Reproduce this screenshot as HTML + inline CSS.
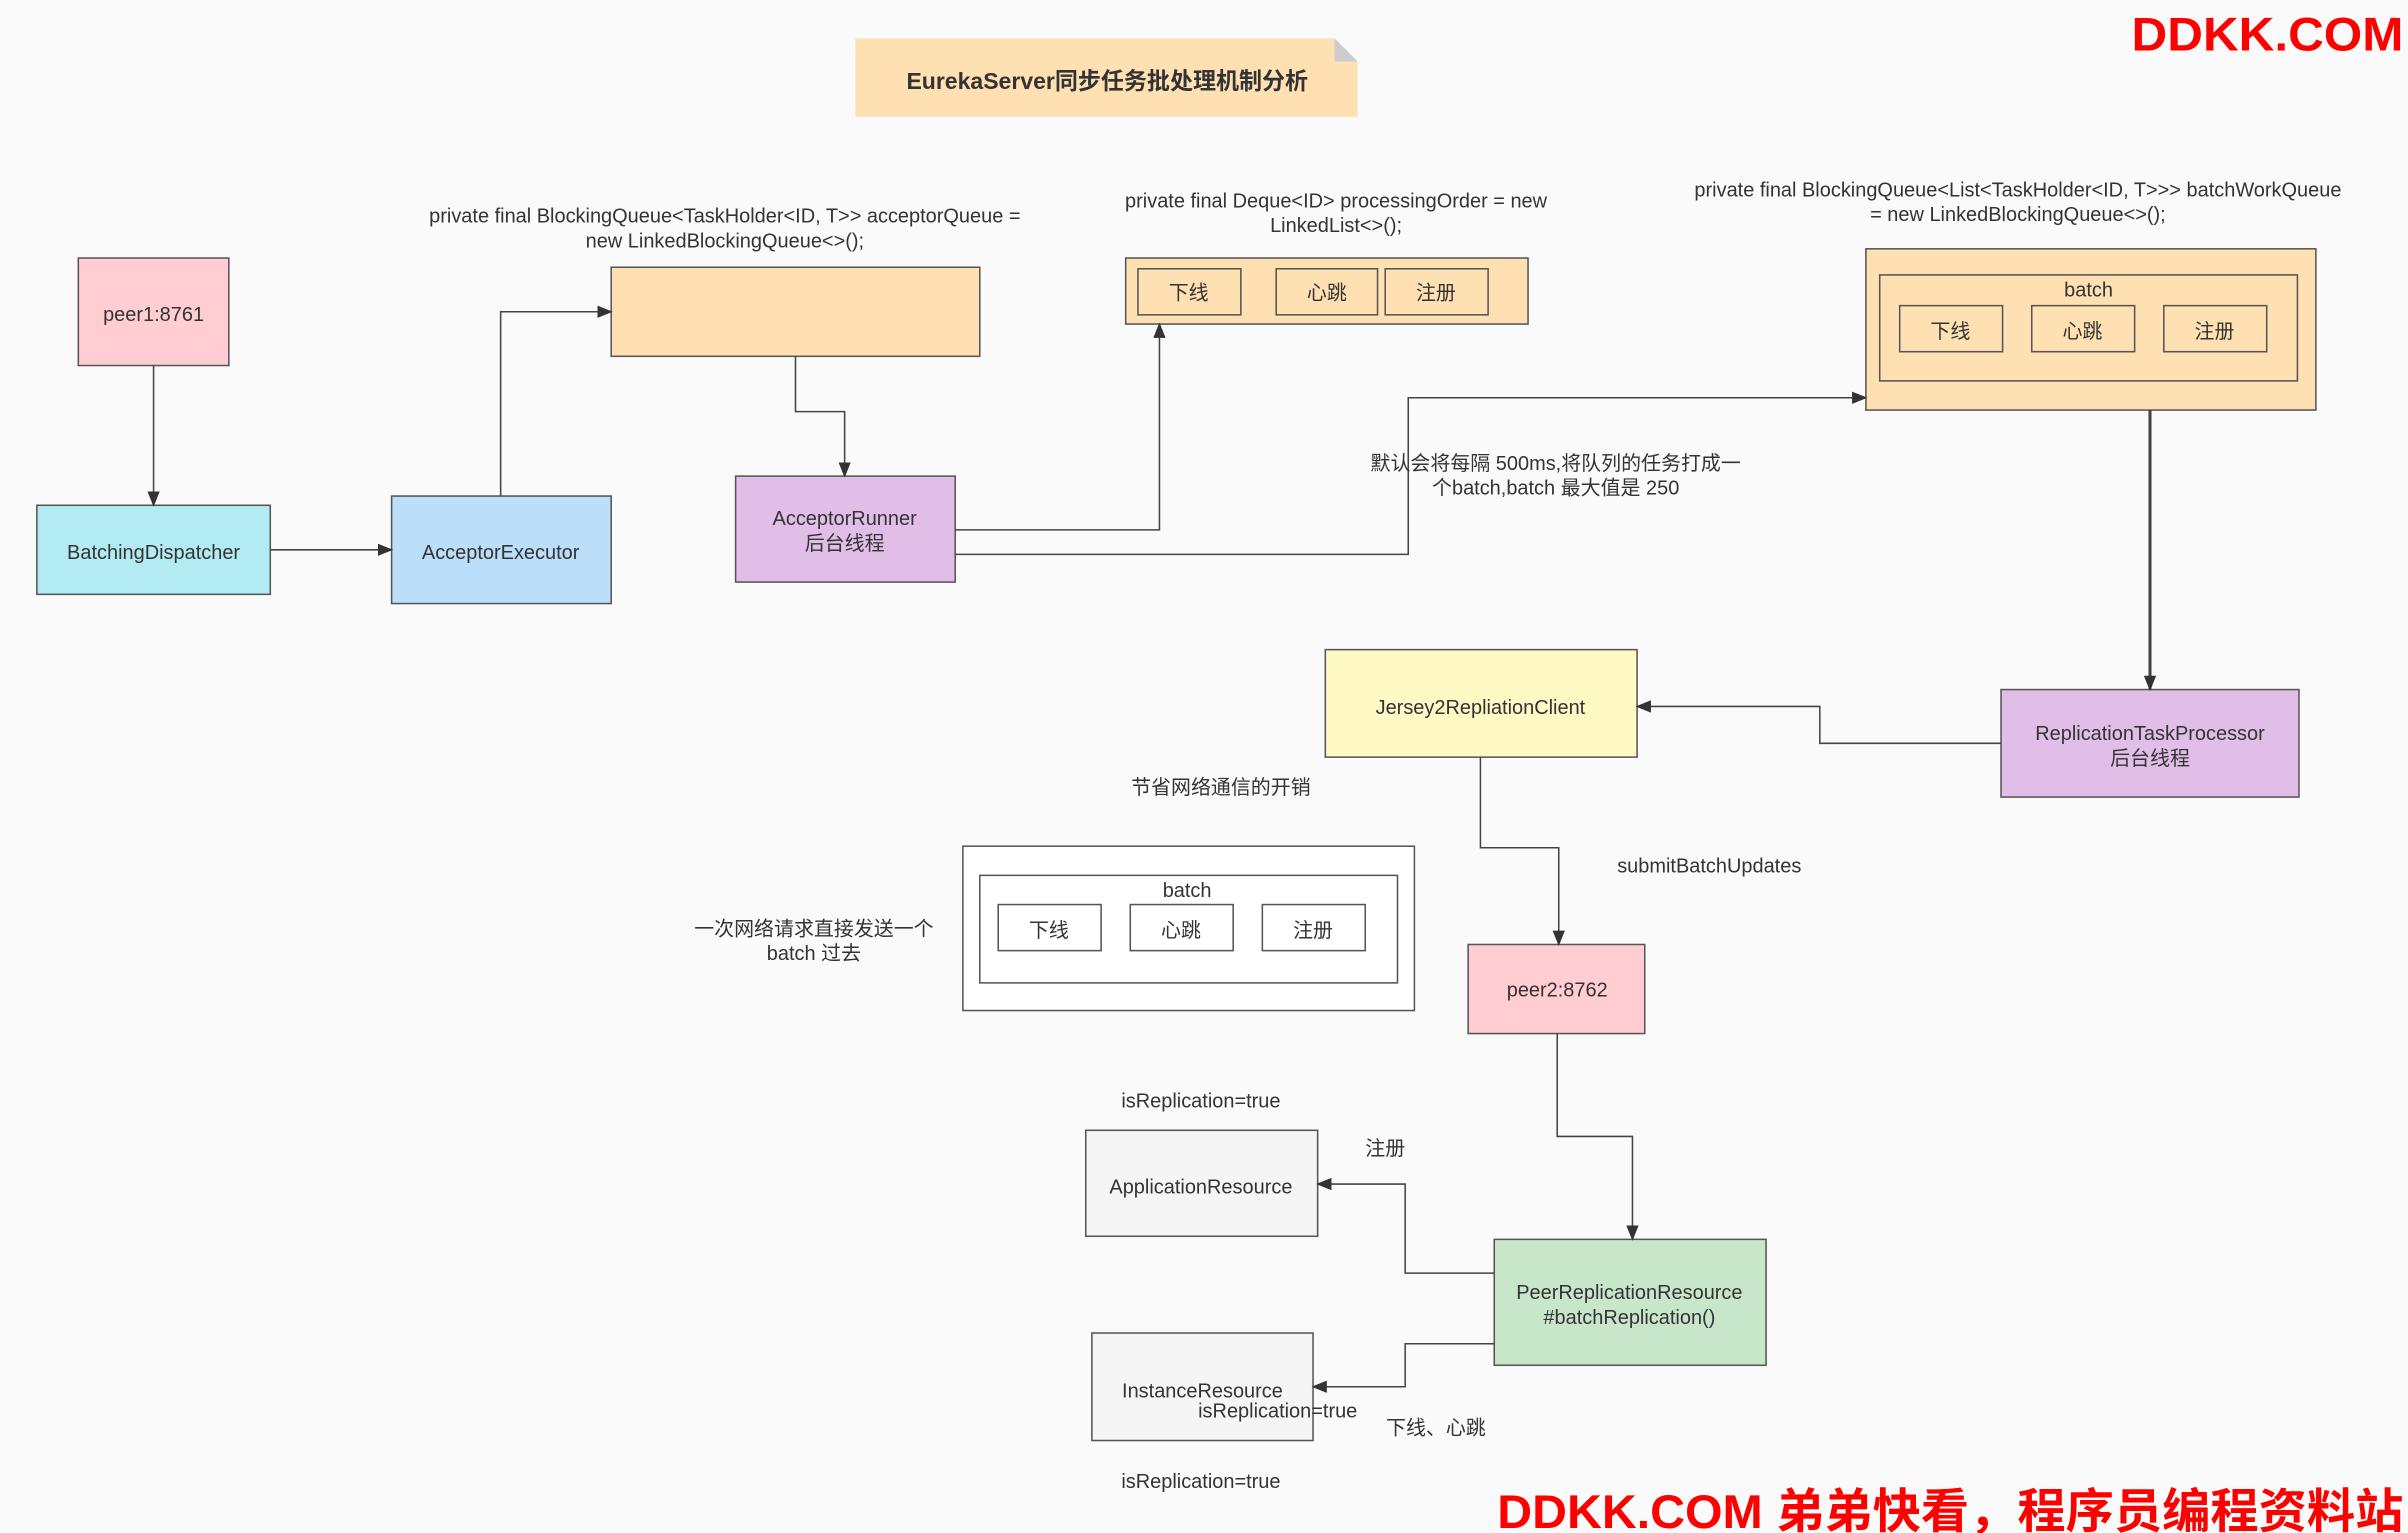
<!DOCTYPE html>
<html><head><meta charset="utf-8"><style>
html,body{margin:0;padding:0;background:#fafafa;}
svg{display:block;}
text{font-family:"Liberation Sans","Noto Sans CJK SC",sans-serif;fill:#333;font-size:13px;}
</style></head><body>
<svg width="2408" height="1533" viewBox="0 0 1568 998.2" xmlns="http://www.w3.org/2000/svg">
<defs><marker id="a" markerWidth="10" markerHeight="10" refX="9" refY="5" orient="auto" markerUnits="userSpaceOnUse"><path d="M0,1 L10,5 L0,9 z" fill="#333"/></marker></defs>
<rect width="1568" height="999" fill="#fafafa"/>
<g stroke="#555" stroke-width="1">
<path d="M557,25 H869 L884,40 V76 H557 Z" fill="#ffe0b2" stroke="none"/>
<path d="M869,25 L884,40 H869 Z" fill="#ccc" stroke="none"/>
<rect x="51" y="168" width="98" height="70" fill="#ffcdd2"/>
<rect x="24" y="329" width="152" height="58" fill="#b2ebf2"/>
<rect x="255" y="323" width="143" height="70" fill="#bbdefb"/>
<rect x="398" y="174" width="240" height="58" fill="#ffe0b2"/>
<rect x="479" y="310" width="143" height="69" fill="#e1bee7"/>
<rect x="733" y="168" width="262" height="43" fill="#ffe0b2"/>
<rect x="741" y="175" width="67" height="30" fill="#ffe0b2"/>
<rect x="831" y="175" width="66" height="30" fill="#ffe0b2"/>
<rect x="902" y="175" width="67" height="30" fill="#ffe0b2"/>
<rect x="1215" y="162" width="293" height="105" fill="#ffe0b2"/>
<rect x="1224" y="179" width="272" height="69" fill="#ffe0b2"/>
<rect x="1237" y="199" width="67" height="30" fill="#ffe0b2"/>
<rect x="1323" y="199" width="67" height="30" fill="#ffe0b2"/>
<rect x="1409" y="199" width="67" height="30" fill="#ffe0b2"/>
<rect x="1303" y="449" width="194" height="70" fill="#e1bee7"/>
<rect x="863" y="423" width="203" height="70" fill="#fff9c4"/>
<rect x="627" y="551" width="294" height="107" fill="#fff"/>
<rect x="638" y="570" width="272" height="70" fill="#fff"/>
<rect x="650" y="589" width="67" height="30" fill="#fff"/>
<rect x="736" y="589" width="67" height="30" fill="#fff"/>
<rect x="822" y="589" width="67" height="30" fill="#fff"/>
<rect x="956" y="615" width="115" height="58" fill="#ffcdd2"/>
<rect x="973" y="807" width="177" height="82" fill="#c8e6c9"/>
<rect x="707" y="736" width="151" height="69" fill="#f5f5f5"/>
<rect x="711" y="868" width="144" height="70" fill="#f5f5f5"/>
</g>
<g stroke="#444" stroke-width="1" fill="none" marker-end="url(#a)">
<path d="M100,238 V329"/>
<path d="M176,358 H255"/>
<path d="M326,323 V203 H398"/>
<path d="M518,232 V268 H550 V310"/>
<path d="M622,345 H755 V211"/>
<path d="M622,361 H917 V259 H1215"/>
<path d="M1400,267 V449" stroke-width="2"/>
<path d="M1303,484 H1185 V460 H1066"/>
<path d="M964,493 V552 H1015 V615"/>
<path d="M1014,673 V740 H1063 V807"/>
<path d="M973,829 H915 V771 H858"/>
<path d="M973,875 H915 V903 H855"/>
</g>
<g text-anchor="middle">
<text x="721" y="58" style="font-weight:bold;font-size:15px">EurekaServer同步任务批处理机制分析</text>
<text x="100" y="209">peer1:8761</text>
<text x="100" y="364">BatchingDispatcher</text>
<text x="326" y="364">AcceptorExecutor</text>
<text x="472" y="145">private final BlockingQueue&lt;TaskHolder&lt;ID, T&gt;&gt; acceptorQueue =</text>
<text x="472" y="161">new LinkedBlockingQueue&lt;&gt;();</text>
<text x="550" y="342">AcceptorRunner</text>
<text x="550" y="358">后台线程</text>
<text x="870" y="135">private final Deque&lt;ID&gt; processingOrder = new</text>
<text x="870" y="151">LinkedList&lt;&gt;();</text>
<text x="774" y="195">下线</text><text x="864" y="195">心跳</text><text x="935" y="195">注册</text>
<text x="1314" y="128">private final BlockingQueue&lt;List&lt;TaskHolder&lt;ID, T&gt;&gt;&gt; batchWorkQueue</text>
<text x="1314" y="144">= new LinkedBlockingQueue&lt;&gt;();</text>
<text x="1360" y="193">batch</text>
<text x="1270" y="220">下线</text><text x="1356" y="220">心跳</text><text x="1442" y="220">注册</text>
<text x="1013" y="306">默认会将每隔 500ms,将队列的任务打成一</text>
<text x="1013" y="322">个batch,batch 最大值是 250</text>
<text x="1400" y="482">ReplicationTaskProcessor</text>
<text x="1400" y="498">后台线程</text>
<text x="964" y="465">Jersey2RepliationClient</text>
<text x="795" y="517">节省网络通信的开销</text>
<text x="1113" y="568">submitBatchUpdates</text>
<text x="773" y="584">batch</text>
<text x="683" y="610">下线</text><text x="769" y="610">心跳</text><text x="855" y="610">注册</text>
<text x="530" y="609">一次网络请求直接发送一个</text>
<text x="530" y="625">batch 过去</text>
<text x="1014" y="649">peer2:8762</text>
<text x="1061" y="846">PeerReplicationResource</text>
<text x="1061" y="862">#batchReplication()</text>
<text x="782" y="721">isReplication=true</text>
<text x="902" y="752">注册</text>
<text x="782" y="777">ApplicationResource</text>
<text x="783" y="910">InstanceResource</text>
<text x="832" y="923">isReplication=true</text>
<text x="935" y="934">下线、心跳</text>
<text x="782" y="969">isReplication=true</text>
</g>
<text x="1388" y="33" textLength="177" lengthAdjust="spacingAndGlyphs" style="fill:#f00;font-weight:bold;font-size:31px">DDKK.COM</text>
<text x="975" y="995" textLength="590" lengthAdjust="spacingAndGlyphs" style="fill:#f00;font-weight:bold;font-size:31px">DDKK.COM 弟弟快看，程序员编程资料站</text>
</svg>
</body></html>
